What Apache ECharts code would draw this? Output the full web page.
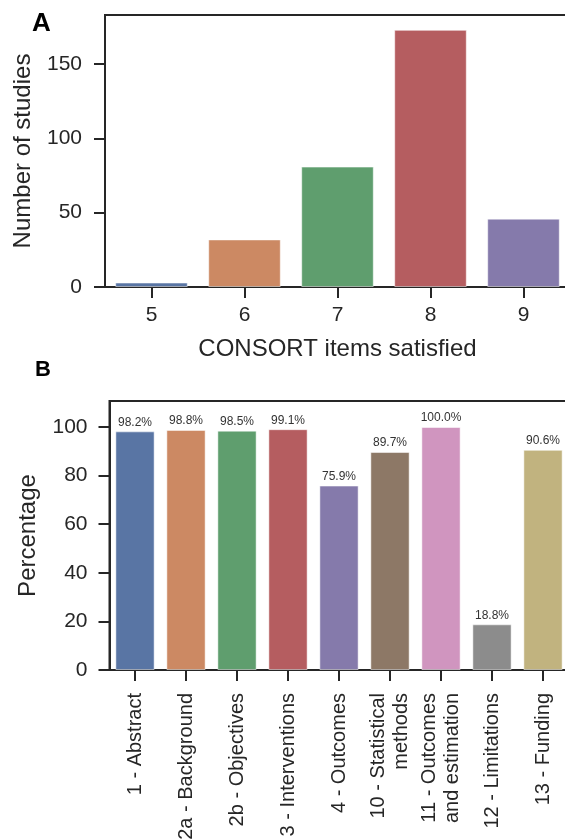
<!DOCTYPE html>
<html>
<head>
<meta charset="utf-8">
<script src="https://cdn.jsdelivr.net/npm/echarts@6/dist/echarts.min.js"></script>
<style>
html,body{margin:0;padding:0;background:#fff;}
#c{width:565px;height:839px;}
</style>
</head>
<body>
<div id="c"></div>
<script>
// Panel A data
const itemsSatisfied = ['5', '6', '7', '8', '9'];
const numberOfStudies = [3, 32, 81, 173, 46];
const yTicksA = [0, 50, 100, 150];

// Panel B data
const consortItems = ['1 - Abstract', '2a - Background', '2b - Objectives', '3 - Interventions', '4 - Outcomes', '10 - Statistical\nmethods', '11 - Outcomes\nand estimation', '12 - Limitations', '13 - Funding'];
const percentages = [98.2, 98.8, 98.5, 99.1, 75.9, 89.7, 100.0, 18.8, 90.6];
const yTicksB = [0, 20, 40, 60, 80, 100];

const palette = ['#5975a4', '#cc8963', '#5f9e6e', '#b55d60', '#857aab', '#8d7866', '#d095bf', '#8c8c8c', '#c1b37f'];
const FONT = '"Liberation Sans", Arial, sans-serif';
const AX = '#262626';

const chart = echarts.init(document.getElementById('c'), null, {renderer: 'canvas'});

const axisLineStyle = {show: true, lineStyle: {color: AX, width: 2}};
const tickStyle = {show: true, inside: false, length: 11, lineStyle: {color: AX, width: 2}};

chart.setOption({
  animation: false,
  backgroundColor: '#fff',
  graphic: [
    {type: 'text', left: 32, top: 11, style: {text: 'A', font: 'bold 26px ' + FONT, fill: '#000'}},
    {type: 'text', left: 35, top: 359, style: {text: 'B', font: 'bold 22px ' + FONT, fill: '#000'}}
  ],
  grid: [
    {left: 105, top: 15, width: 465, height: 272, outerBoundsMode: 'none', containLabel: false, show: true, borderColor: AX, borderWidth: 2, backgroundColor: 'transparent'},
    {left: 109.5, top: 401, width: 459, height: 269, outerBoundsMode: 'none', containLabel: false, show: true, borderColor: AX, borderWidth: 2, backgroundColor: 'transparent'}
  ],
  xAxis: [
    {
      gridIndex: 0, type: 'category', data: itemsSatisfied,
      axisLine: axisLineStyle,
      axisTick: Object.assign({alignWithLabel: true}, tickStyle),
      axisLabel: {color: AX, fontSize: 21, fontFamily: FONT, margin: 18},
      name: 'CONSORT items satisfied', nameLocation: 'middle', nameGap: 50,
      nameTextStyle: {color: AX, fontSize: 24, fontFamily: FONT},
      splitLine: {show: false}
    },
    {
      gridIndex: 1, type: 'category', data: consortItems,
      axisLine: axisLineStyle,
      axisTick: Object.assign({alignWithLabel: true}, tickStyle),
      axisLabel: {color: AX, fontSize: 20, fontFamily: FONT, margin: 23, rotate: 90, interval: 0, lineHeight: 23, align: 'right'},
      splitLine: {show: false}
    }
  ],
  yAxis: [
    {
      gridIndex: 0, type: 'value', min: 0, max: 183, interval: 50,
      axisLine: axisLineStyle,
      axisTick: Object.assign({customValues: yTicksA}, tickStyle),
      axisLabel: {color: AX, fontSize: 21, fontFamily: FONT, margin: 23, customValues: yTicksA},
      splitLine: {show: false},
      name: 'Number of studies', nameLocation: 'middle', nameGap: 70,
      nameTextStyle: {color: AX, fontSize: 24, fontFamily: FONT}
    },
    {
      gridIndex: 1, type: 'value', min: 0, max: 110.7, interval: 20,
      axisLine: axisLineStyle,
      axisTick: Object.assign({customValues: yTicksB}, tickStyle),
      axisLabel: {color: AX, fontSize: 21, fontFamily: FONT, margin: 22, customValues: yTicksB},
      splitLine: {show: false},
      name: 'Percentage', nameLocation: 'middle', nameGap: 69,
      nameTextStyle: {color: AX, fontSize: 24, fontFamily: FONT}
    }
  ],
  series: [
    {
      type: 'bar', xAxisIndex: 0, yAxisIndex: 0, barWidth: '78%',
      data: numberOfStudies.map((v, i) => ({value: v, itemStyle: {color: palette[i]}})),
      itemStyle: {borderColor: 'rgba(255,255,255,0.5)', borderWidth: 1}
    },
    {
      type: 'bar', xAxisIndex: 1, yAxisIndex: 1, barWidth: '77%',
      data: percentages.map((v, i) => ({value: v, itemStyle: {color: palette[i]}})),
      itemStyle: {borderColor: 'rgba(255,255,255,0.5)', borderWidth: 1},
      label: {
        show: true, position: 'top', distance: 3, color: '#333', fontSize: 12, fontFamily: FONT,
        formatter: p => p.value.toFixed(1) + '%'
      }
    }
  ]
});
</script>
</body>
</html>
